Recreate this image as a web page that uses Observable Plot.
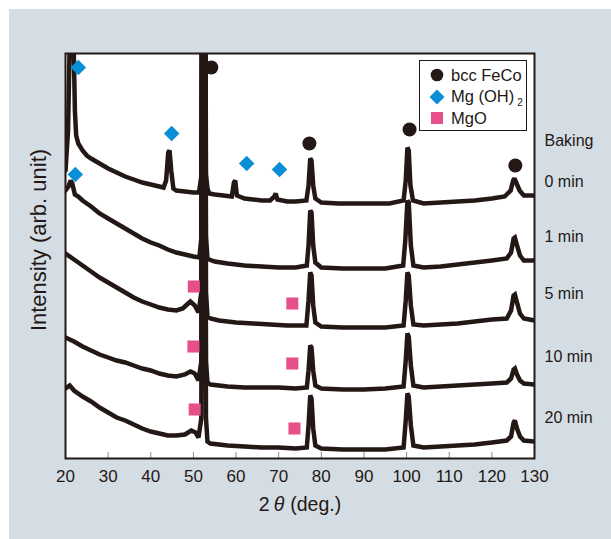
<!DOCTYPE html>
<html><head><meta charset="utf-8">
<script src="https://cdn.jsdelivr.net/npm/d3@7"></script>
<script src="https://cdn.jsdelivr.net/npm/@observablehq/plot@0.6"></script>
<style>
body{margin:0;background:#fff;font-family:"Liberation Sans",Arial,sans-serif;}
#wrap{position:relative;width:611px;height:539px;overflow:hidden;}
#panel{position:absolute;left:9px;top:9px;width:602px;height:530px;background:#d5dde4;}
#chart{position:absolute;left:0;top:0;}
#legend{position:absolute;left:419px;top:60px;width:106px;height:69px;background:#fff;border:1.5px solid #231815;font-size:16.5px;color:#231815;}
#legend .row{position:absolute;left:9px;height:20px;display:flex;align-items:center;}
#legend .row span{margin-left:6px;white-space:nowrap;}
#legend sub{font-size:10px;vertical-align:-4px;margin-left:3px;}
</style></head><body>
<div id="wrap"><div id="panel"></div><div id="chart"></div>
<div id="legend">
<div class="row" style="top:4px"><svg width="16" height="16"><circle cx="8" cy="8" r="6.3" fill="#231815"/></svg><span>bcc FeCo</span></div>
<div class="row" style="top:26px"><svg width="16" height="16"><path d="M8,0.5L15.5,8L8,15.5L0.5,8Z" fill="#0a8fd6"/></svg><span>Mg (OH)<sub>2</sub></span></div>
<div class="row" style="top:47px"><svg width="16" height="16"><rect x="2" y="2" width="12" height="12" fill="#e5508a"/></svg><span>MgO</span></div>
</div>
</div>
<script>
// XRD patterns (2θ in deg., intensity in arb. units, already offset per trace)
const theta0 = [20,20.6,21,21.4,21.9,22.2,22.5,23,24,25,26,28,30,32,34,36,38,40,42,43,43.6,44.1,44.4,44.8,45.3,46,48,50,51.3,51.85,52.4,52.95,53.3,53.7,55,57,59,59.5,59.8,60.2,62,64,66,68,69,69.3,69.7,72,74,76.5,77,77.4,77.7,78.1,78.6,80,84,88,92,96,99.3,99.8,100.2,100.5,100.9,101.5,104,108,112,116,120,123,124.4,125,125.3,125.8,126.5,127.5,130];
const int0 = [288,328,418,900,418,348,323,315,308,303,300,295,290,286,282,279,276,274,272,271,278,306,308,288,270,268,267,266,266,282,1000,284,270,265,264,263,262,276,278,263,260,259,258,258,262,265,259,257,257,258,273,300,298,273,260,256,255,255,255,255,258,278,311,308,273,258,255,256,257,258,260,262,268,278,280,275,268,263,263];

const theta1 = [20,20.7,21.2,21.6,22.2,23,24,26,28,30,32,34,36,38,40,42,44,46,48,50,51.4,51.85,52.4,52.95,53.3,53.7,55,58,62,66,70,74,76.6,77,77.4,77.7,78.1,78.6,80,85,90,95,99.2,99.7,100.2,100.5,101,101.6,104,108,112,116,120,123.5,124.5,125.1,125.4,125.9,126.6,127.5,130];
const int1 = [268,272,278,275,264,262,258,252,245,240,235,230,225,220,216,213,209,206,204,202,201,220,1000,222,200,199,197,195,193,192,191,191,193,213,248,246,213,196,191,190,190,190,193,218,258,256,213,193,191,192,194,196,198,200,206,220,221,213,203,198,198];

const theta5 = [20,22,24,26,28,30,32,34,36,38,40,42,44,46,47.5,48.5,49.3,50.3,51.2,51.85,52.4,52.95,53.3,54,56,60,64,68,72,76.5,77,77.4,77.7,78.1,78.6,80,85,90,95,99.3,99.8,100.2,100.5,101,101.6,104,108,112,116,120,123.5,124.5,125.1,125.4,125.9,126.6,127.5,130];
const int5 = [205,199,193,187,181,176,171,166,161,157,154,151,149,148,150,154,157,153,146,166,1000,166,142,140,138,136,135,134,133,133,158,186,183,153,136,132,131,131,131,133,158,186,183,153,134,133,134,135,137,139,140,148,163,164,156,145,140,138];

const theta10 = [20,22,24,26,28,30,32,34,36,38,40,42,44,46,48,49.3,50.3,51.2,51.85,52.4,52.95,53.3,54,58,62,66,70,74,76.6,77,77.4,77.7,78.1,78.6,80,85,90,95,99.3,99.8,100.2,100.5,101,101.6,104,108,112,116,120,123.5,124.5,125.1,125.4,125.9,126.6,127.5,130];
const int10 = [121,117,112,108,104,101,98,96,93,90,88,85,83,82,84,87,85,78,97,1000,97,76,74,72,71,71,71,70,71,88,113,111,88,73,70,69,69,70,72,98,125,122,93,73,71,72,73,74,75,76,80,89,90,84,78,75,74];

const theta20 = [20,21,22,24,26,28,30,32,34,36,38,40,42,44,46,48,49.5,50.5,51.2,51.85,52.4,52.95,53.3,54,58,62,66,70,74,76.6,77,77.4,77.7,78.1,78.6,80,85,90,95,99.3,99.8,100.2,100.5,101,101.6,104,108,112,116,120,123.5,124.5,125.1,125.4,125.9,126.6,127.5,130];
const int20 = [70,73,68,62,57,51,46,41,38,34,30,27,25,23,23,24,28,26,21,40,1000,40,17,15,13,12,11,11,10,11,33,63,60,30,13,10,9,9,9,11,38,65,62,33,13,11,12,13,14,16,18,22,36,38,30,22,18,17];

// Phase markers
const fecoTheta = [54.2,77.2,100.7,125.5];
const fecoInt = [391,315,329,293];
const mgohTheta = [23.0,44.9,62.5,70.2,22.3];
const mgohInt = [391,325,295,289,284];
const mgoTheta = [50.1,73.2,50.0,73.2,50.3,73.7];
const mgoInt = [172,155,112,95,49,30];

// Trace labels
const labelText = ["Baking","0 min","1 min","5 min","10 min","20 min"];
const labelInt = [318,277,222,165,102,41];

const xTicks = [20,30,40,50,60,70,80,90,100,110,120,130];
const innerTicks = [30,40,50,60,70,80,90,100,110,120];

const ink = "#231815";
const traces = [[theta0,int0,"0 min"],[theta1,int1,"1 min"],[theta5,int5,"5 min"],[theta10,int10,"10 min"],[theta20,int20,"20 min"]];
const rows = traces.flatMap(([t, v, s]) => t.map((x, i) => ({theta: x, I: v[i], s})));
const pts = (t, v) => t.map((x, i) => ({theta: x, I: v[i]}));

const chart = Plot.plot({
  width: 611, height: 539,
  marginLeft: 65, marginRight: 77, marginTop: 53, marginBottom: 81,
  style: {background: "transparent", fontFamily: "'Liberation Sans', Arial, sans-serif", fontSize: "17px", color: ink, overflow: "visible"},
  x: {domain: [20, 130], ticks: xTicks, tickSize: 0, tickPadding: 11, label: null, tickFormat: d => String(d)},
  y: {domain: [0, 405], axis: null},
  marks: [
    Plot.frame({fill: "white"}),
    Plot.ruleX(innerTicks, {x: d => d, y1: 0, y2: 6, stroke: "#8a8a8a", strokeWidth: 1}),
    Plot.line(rows, {x: "theta", y: "I", z: "s", stroke: ink, strokeWidth: 4.5, strokeLinejoin: "miter", strokeMiterlimit: 2, clip: true}),
    Plot.dot(pts(fecoTheta, fecoInt), {x: "theta", y: "I", r: 7, fill: ink, symbol: "circle"}),
    Plot.dot(pts(mgohTheta, mgohInt), {x: "theta", y: "I", r: 7, fill: "#0a8fd6", symbol: "diamond2"}),
    Plot.dot(pts(mgoTheta, mgoInt), {x: "theta", y: "I", r: 6.8, fill: "#e5508a", symbol: "square"}),
    Plot.frame({stroke: ink, strokeWidth: 2}),
    Plot.text(labelText.map((t, i) => ({t, I: labelInt[i]})), {x: () => 130, y: "I", text: "t", dx: 10, textAnchor: "start", fontSize: 16, fill: ink}),
    Plot.text(["Intensity (arb. unit)"], {frameAnchor: "left", textAnchor: "middle", rotate: -90, dx: -27, dy: -16, fontSize: 22, fill: ink}),
    Plot.text(["2θ (deg.)"], {frameAnchor: "bottom", textAnchor: "middle", dy: 52, fontSize: 19.5, fill: ink})
  ]
});
chart.querySelectorAll("text").forEach(t => {
  if (t.textContent === "2θ (deg.)") {
    t.innerHTML = '2<tspan dx="4" font-style="italic">θ</tspan><tspan dx="6">(deg.)</tspan>';
  }
});
document.getElementById("chart").appendChild(chart);
</script>
</body></html>
